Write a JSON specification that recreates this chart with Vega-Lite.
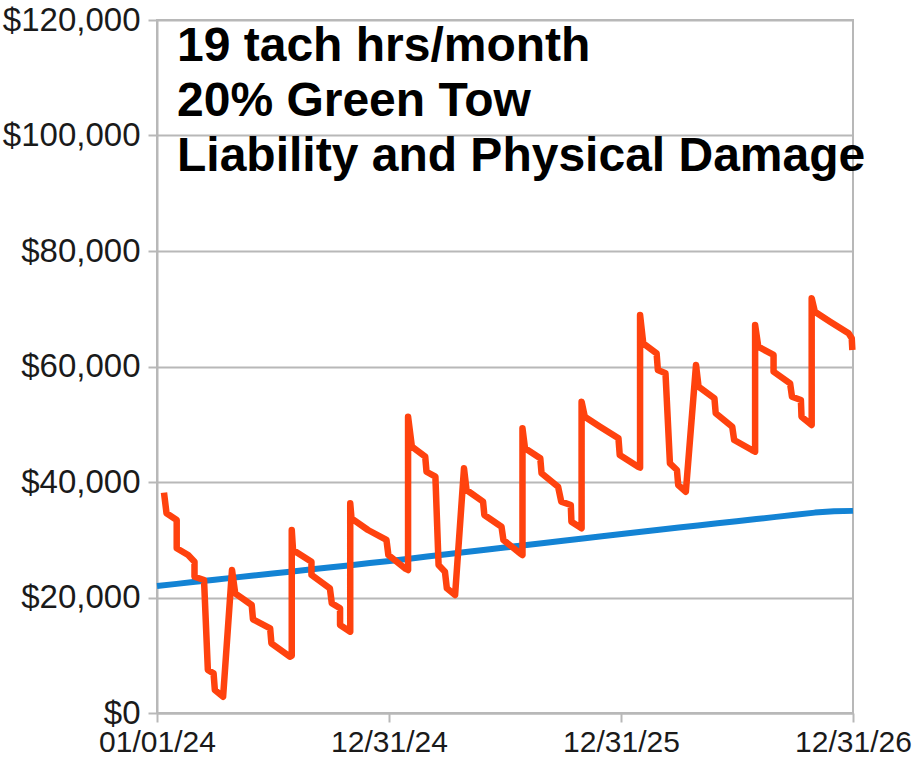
{
  "$schema": "https://vega.github.io/schema/vega-lite/v6.json",
  "width": 696,
  "height": 693,
  "autosize": "none",
  "padding": {"left": 157, "top": 20, "right": 59, "bottom": 56},
  "background": "white",
  "config": {
    "view": {"stroke": "#b8b8b8", "strokeWidth": 2},
    "axis": {
      "labelFont": "Liberation Sans",
      "labelFontSize": 32,
      "labelColor": "#1a1a1a",
      "domainColor": "#b8b8b8",
      "domainWidth": 2,
      "tickColor": "#b8b8b8",
      "tickWidth": 2,
      "tickSize": 9,
      "gridColor": "#b8b8b8",
      "gridWidth": 2,
      "title": null
    }
  },
  "datasets": {
    "tow": [
      {"i": 0, "d": "2024-01-12", "v": 38150},
      {"i": 1, "d": "2024-01-16", "v": 34580},
      {"i": 2, "d": "2024-02-01", "v": 33420},
      {"i": 3, "d": "2024-02-01", "v": 28520},
      {"i": 4, "d": "2024-02-19", "v": 27360},
      {"i": 5, "d": "2024-02-29", "v": 26200},
      {"i": 6, "d": "2024-02-29", "v": 23600},
      {"i": 7, "d": "2024-03-15", "v": 23030},
      {"i": 8, "d": "2024-03-21", "v": 7450},
      {"i": 9, "d": "2024-03-30", "v": 6870},
      {"i": 10, "d": "2024-04-01", "v": 3980},
      {"i": 11, "d": "2024-04-14", "v": 2820},
      {"i": 12, "d": "2024-04-28", "v": 24760},
      {"i": 13, "d": "2024-05-03", "v": 20730},
      {"i": 14, "d": "2024-05-29", "v": 18700},
      {"i": 15, "d": "2024-05-31", "v": 16220},
      {"i": 16, "d": "2024-06-27", "v": 14660},
      {"i": 17, "d": "2024-06-29", "v": 12070},
      {"i": 18, "d": "2024-07-28", "v": 9750},
      {"i": 19, "d": "2024-07-31", "v": 9900},
      {"i": 20, "d": "2024-07-31", "v": 31690},
      {"i": 21, "d": "2024-08-02", "v": 28220},
      {"i": 22, "d": "2024-08-31", "v": 26200},
      {"i": 23, "d": "2024-08-31", "v": 23900},
      {"i": 24, "d": "2024-09-29", "v": 21590},
      {"i": 25, "d": "2024-10-02", "v": 19000},
      {"i": 26, "d": "2024-10-15", "v": 18130},
      {"i": 27, "d": "2024-10-15", "v": 15240},
      {"i": 28, "d": "2024-10-31", "v": 14080},
      {"i": 29, "d": "2024-10-31", "v": 36310},
      {"i": 30, "d": "2024-11-02", "v": 33710},
      {"i": 31, "d": "2024-11-28", "v": 31690},
      {"i": 32, "d": "2024-12-27", "v": 29960},
      {"i": 33, "d": "2024-12-30", "v": 27360},
      {"i": 34, "d": "2025-01-25", "v": 25060},
      {"i": 35, "d": "2025-01-30", "v": 24760},
      {"i": 36, "d": "2025-01-30", "v": 51310},
      {"i": 37, "d": "2025-02-05", "v": 46110},
      {"i": 38, "d": "2025-02-26", "v": 44380},
      {"i": 39, "d": "2025-02-28", "v": 41780},
      {"i": 40, "d": "2025-03-14", "v": 40920},
      {"i": 41, "d": "2025-03-19", "v": 25630},
      {"i": 42, "d": "2025-03-29", "v": 24470},
      {"i": 43, "d": "2025-04-01", "v": 21590},
      {"i": 44, "d": "2025-04-14", "v": 20430},
      {"i": 45, "d": "2025-04-28", "v": 42370},
      {"i": 46, "d": "2025-05-02", "v": 38610},
      {"i": 47, "d": "2025-05-28", "v": 36590},
      {"i": 48, "d": "2025-05-30", "v": 34290},
      {"i": 49, "d": "2025-06-26", "v": 32260},
      {"i": 50, "d": "2025-06-29", "v": 29960},
      {"i": 51, "d": "2025-07-25", "v": 27650},
      {"i": 52, "d": "2025-07-29", "v": 27360},
      {"i": 53, "d": "2025-07-29", "v": 49300},
      {"i": 54, "d": "2025-08-02", "v": 45830},
      {"i": 55, "d": "2025-08-26", "v": 44100},
      {"i": 56, "d": "2025-08-28", "v": 41500},
      {"i": 57, "d": "2025-09-23", "v": 39190},
      {"i": 58, "d": "2025-09-28", "v": 36590},
      {"i": 59, "d": "2025-10-13", "v": 36020},
      {"i": 60, "d": "2025-10-14", "v": 33130},
      {"i": 61, "d": "2025-10-30", "v": 31980},
      {"i": 62, "d": "2025-10-30", "v": 53910},
      {"i": 63, "d": "2025-11-04", "v": 51310},
      {"i": 64, "d": "2025-11-28", "v": 49580},
      {"i": 65, "d": "2025-12-27", "v": 47560},
      {"i": 66, "d": "2025-12-29", "v": 44680},
      {"i": 67, "d": "2026-01-27", "v": 42650},
      {"i": 68, "d": "2026-01-30", "v": 42500},
      {"i": 69, "d": "2026-01-30", "v": 68920},
      {"i": 70, "d": "2026-02-04", "v": 64020},
      {"i": 71, "d": "2026-02-25", "v": 62290},
      {"i": 72, "d": "2026-02-27", "v": 59400},
      {"i": 73, "d": "2026-03-11", "v": 58820},
      {"i": 74, "d": "2026-03-18", "v": 43230},
      {"i": 75, "d": "2026-03-29", "v": 42080},
      {"i": 76, "d": "2026-03-31", "v": 39480},
      {"i": 77, "d": "2026-04-12", "v": 38320},
      {"i": 78, "d": "2026-04-28", "v": 60260},
      {"i": 79, "d": "2026-05-02", "v": 56500},
      {"i": 80, "d": "2026-05-27", "v": 54490},
      {"i": 81, "d": "2026-05-29", "v": 51900},
      {"i": 82, "d": "2026-06-24", "v": 49580},
      {"i": 83, "d": "2026-06-27", "v": 47270},
      {"i": 84, "d": "2026-07-25", "v": 45540},
      {"i": 85, "d": "2026-07-30", "v": 45250},
      {"i": 86, "d": "2026-07-30", "v": 67190},
      {"i": 87, "d": "2026-08-04", "v": 63430},
      {"i": 88, "d": "2026-08-28", "v": 62000},
      {"i": 89, "d": "2026-08-28", "v": 59100},
      {"i": 90, "d": "2026-09-23", "v": 57090},
      {"i": 91, "d": "2026-09-26", "v": 54770},
      {"i": 92, "d": "2026-10-10", "v": 54200},
      {"i": 93, "d": "2026-10-11", "v": 51310},
      {"i": 94, "d": "2026-10-27", "v": 49870},
      {"i": 95, "d": "2026-10-27", "v": 71810},
      {"i": 96, "d": "2026-11-01", "v": 69490},
      {"i": 97, "d": "2026-11-25", "v": 67760},
      {"i": 98, "d": "2026-12-24", "v": 65750},
      {"i": 99, "d": "2026-12-29", "v": 64890},
      {"i": 100, "d": "2026-12-30", "v": 62860}
    ],
    "base": [
      {"d": "2024-01-01", "v": 22000},
      {"d": "2024-02-01", "v": 22360},
      {"d": "2024-03-01", "v": 22720},
      {"d": "2024-04-01", "v": 23080},
      {"d": "2024-05-01", "v": 23440},
      {"d": "2024-06-01", "v": 23800},
      {"d": "2024-07-01", "v": 24160},
      {"d": "2024-08-01", "v": 24520},
      {"d": "2024-09-01", "v": 24880},
      {"d": "2024-10-01", "v": 25240},
      {"d": "2024-11-01", "v": 25600},
      {"d": "2024-12-01", "v": 25960},
      {"d": "2025-01-01", "v": 26320},
      {"d": "2025-02-01", "v": 26710},
      {"d": "2025-03-01", "v": 27100},
      {"d": "2025-04-01", "v": 27490},
      {"d": "2025-05-01", "v": 27880},
      {"d": "2025-06-01", "v": 28270},
      {"d": "2025-07-01", "v": 28660},
      {"d": "2025-08-01", "v": 29050},
      {"d": "2025-09-01", "v": 29440},
      {"d": "2025-10-01", "v": 29830},
      {"d": "2025-11-01", "v": 30220},
      {"d": "2025-12-01", "v": 30610},
      {"d": "2026-01-01", "v": 31000},
      {"d": "2026-02-01", "v": 31370},
      {"d": "2026-03-01", "v": 31740},
      {"d": "2026-04-01", "v": 32110},
      {"d": "2026-05-01", "v": 32480},
      {"d": "2026-06-01", "v": 32850},
      {"d": "2026-07-01", "v": 33220},
      {"d": "2026-08-01", "v": 33590},
      {"d": "2026-09-01", "v": 33960},
      {"d": "2026-10-01", "v": 34330},
      {"d": "2026-11-01", "v": 34700},
      {"d": "2026-12-01", "v": 34930},
      {"d": "2026-12-31", "v": 35000}
    ]
  },
  "layer": [
    {
      "data": {"name": "base"},
      "mark": {"type": "line", "color": "#1383d4", "strokeWidth": 6, "strokeJoin": "round", "strokeCap": "butt"},
      "encoding": {
        "x": {
          "field": "d",
          "type": "temporal",
          "scale": {"type": "utc", "domain": [1704067200000, 1798675200000], "nice": false},
          "axis": {
            "values": [1704067200000, 1735603200000, 1767139200000, 1798675200000],
            "format": "%m/%d/%y",
            "grid": false,
            "labelFontSize": 30,
            "labelPadding": 5,
            "labelFlush": false,
            "labelOverlap": false
          }
        },
        "y": {
          "field": "v",
          "type": "quantitative",
          "scale": {"domain": [0, 120000], "nice": false},
          "axis": {
            "values": [0, 20000, 40000, 60000, 80000, 100000, 120000],
            "format": "$,.0f",
            "grid": true,
            "labelFontSize": 33,
            "labelPadding": 8,
            "labelFlush": false,
            "labelOverlap": false
          }
        }
      }
    },
    {
      "data": {"name": "tow"},
      "mark": {"type": "line", "color": "#ff420e", "strokeWidth": 6.5, "strokeJoin": "round", "strokeCap": "butt"},
      "encoding": {
        "x": {"field": "d", "type": "temporal"},
        "y": {"field": "v", "type": "quantitative"},
        "order": {"field": "i", "type": "quantitative"}
      }
    },
    {
      "data": {"values": [{}]},
      "mark": {
        "type": "text",
        "font": "Liberation Sans",
        "fontSize": 48,
        "fontWeight": "bold",
        "color": "#000000",
        "align": "left",
        "baseline": "top",
        "lineHeight": 55,
        "dx": 20,
        "dy": 3
      },
      "encoding": {
        "x": {"datum": 1704067200000, "type": "temporal"},
        "y": {"datum": 120000, "type": "quantitative"},
        "text": {"value": ["19 tach hrs/month", "20% Green Tow", "Liability and Physical Damage"]}
      }
    }
  ]
}
